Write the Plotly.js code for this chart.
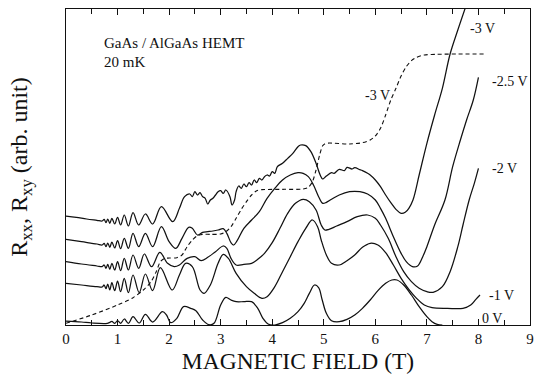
<!DOCTYPE html>
<html><head><meta charset="utf-8">
<script src="https://cdn.plot.ly/plotly-3.0.1.min.js"></script>
<style>html,body{margin:0;padding:0;background:#fff}#plot{width:534px;height:380px}</style>
</head><body><div id="plot"></div>
<script>
// Magnetic field (T) and R (arb. unit) for each gate voltage
const bM3 = [0,0.2,0.4,0.6,0.7,0.74,0.775,0.81,0.85,0.89,0.945,1.0,1.06,1.13,1.21,1.3,1.41,1.54,1.68,1.85,2.07,2.2,2.3,2.4,2.45,2.5,2.55,2.6,2.65,2.7,2.75,2.8,2.85,2.9,2.95,3.0,3.05,3.1,3.18,3.22,3.27,3.3,3.35,3.4,3.45,3.5,3.55,3.6,3.65,3.7,3.75,3.8,3.85,3.9,3.95,4.0,4.05,4.1,4.2,4.3,4.4,4.5,4.55,4.65,4.75,4.85,4.93,4.98,5.05,5.15,5.2,5.3,5.4,5.45,5.55,5.6,5.7,5.75,5.85,5.9,6.0,6.1,6.2,6.3,6.4,6.5,6.58,6.65,6.73,6.85,7.0,7.15,7.3,7.45,7.6,7.76];
const rM3 = [327,323,318,314,312,317,307,318,305,320,303,323,300,330,297,337,300,333,303,355,310,350,385,393,385,400,390,397,385,380,363,375,380,390,400,403,395,405,385,360,375,400,417,410,423,415,427,420,435,427,440,435,445,450,447,460,455,475,485,500,515,535,540,538,520,485,450,438,447,457,455,467,463,473,468,472,466,463,455,450,435,415,390,367,347,335,338,350,375,450,545,630,710,813,885,958];

const bM25 = [0,0.3,0.6,0.7,0.74,0.775,0.81,0.85,0.89,0.945,1.0,1.06,1.13,1.21,1.3,1.41,1.54,1.68,1.85,2.0,2.13,2.25,2.38,2.45,2.55,2.65,2.75,2.85,2.95,3.05,3.12,3.2,3.25,3.32,3.45,3.6,3.75,3.9,4.05,4.2,4.35,4.5,4.6,4.7,4.8,4.9,4.98,5.05,5.15,5.3,5.5,5.7,5.85,6.0,6.1,6.2,6.35,6.5,6.6,6.72,6.82,6.92,7.0,7.15,7.35,7.5,7.65,7.77,7.9,8.0];
const rM25 = [257,250,243,240,245,235,246,233,249,231,253,229,260,230,275,235,275,235,295,250,230,260,293,290,270,278,280,282,285,289,275,247,240,253,290,315,340,380,410,435,450,457,455,445,420,385,365,368,377,390,400,400,393,375,350,320,265,215,190,175,177,205,235,300,375,475,555,615,675,743];

const bM2 = [0,0.3,0.6,0.7,0.74,0.775,0.81,0.85,0.89,0.945,1.0,1.06,1.13,1.21,1.3,1.41,1.52,1.66,1.82,1.97,2.1,2.2,2.35,2.5,2.62,2.75,2.9,3.05,3.12,3.2,3.3,3.45,3.6,3.72,3.85,4.0,4.15,4.3,4.45,4.6,4.72,4.85,4.95,5.02,5.1,5.25,5.45,5.65,5.85,6.0,6.1,6.25,6.4,6.55,6.7,6.85,7.0,7.12,7.3,7.45,7.6,7.7,7.82,7.92,8.0];
const rM2 = [190,183,177,175,180,170,182,167,185,165,190,163,200,165,210,170,213,175,218,185,175,180,200,205,193,203,220,237,230,200,180,182,185,197,215,247,290,335,365,377,370,345,300,285,287,297,310,325,330,320,300,260,205,160,130,110,100,98,115,160,235,300,375,425,470];

const bM1 = [0,0.3,0.6,0.7,0.74,0.775,0.81,0.85,0.89,0.945,1.0,1.06,1.13,1.21,1.3,1.42,1.54,1.68,1.83,2.06,2.2,2.32,2.45,2.6,2.68,2.8,2.95,3.05,3.15,3.3,3.5,3.65,3.8,3.9,4.05,4.2,4.35,4.5,4.65,4.78,4.88,4.95,5.05,5.15,5.3,5.45,5.6,5.75,5.9,6.05,6.2,6.35,6.5,6.65,6.8,6.95,7.1,7.4,7.7,7.85,7.95,8.03];
const rM1 = [125,120,115,114,120,109,123,105,127,103,132,100,140,97,150,97,153,103,172,105,150,185,175,105,95,120,185,212,200,155,115,95,80,85,115,160,205,250,290,315,295,255,210,185,180,193,210,233,245,240,217,180,140,107,80,60,52,50,50,60,77,90];

const b0 = [0,0.3,0.5,0.8,0.85,0.89,0.945,1.0,1.06,1.13,1.21,1.3,1.42,1.54,1.68,1.87,1.95,2.03,2.15,2.28,2.42,2.52,2.65,2.77,2.87,3.0,3.1,3.2,3.3,3.45,3.6,3.72,3.82,3.92,4.05,4.2,4.35,4.5,4.62,4.72,4.82,4.9,4.97,5.05,5.15,5.3,5.45,5.6,5.75,5.9,6.05,6.2,6.32,6.42,6.55,6.7,6.85,7.0,7.1,7.2,7.3];
const r0 = [12,9,6,5,8,11,5,13,5,18,5,25,6,32,9,40,30,7,20,55,50,43,15,1,5,60,83,75,70,70,70,50,20,3,0,7,20,40,65,95,120,112,75,35,13,10,17,30,50,75,103,125,135,135,120,90,55,25,10,2,0];

const bXY = [0,0.5,1.0,1.3,1.5,1.65,1.75,1.83,1.9,2.0,2.15,2.25,2.35,2.45,2.55,2.65,2.8,3.0,3.1,3.2,3.3,3.4,3.5,3.6,3.7,3.8,4.2,4.6,4.7,4.78,4.85,4.92,4.98,5.05,5.5,5.75,5.9,6.0,6.1,6.2,6.3,6.4,6.5,6.6,6.7,6.8,6.95,7.2,7.6,8.1];
const rXY = [5,30,60,82,105,130,160,190,199,201,202,210,235,255,268,272,272,273,280,295,320,347,370,390,403,406,407,408,413,430,465,510,538,545,543,547,555,567,590,630,675,710,747,775,793,803,810,812,813,813];

const xTicks = [0,1,2,3,4,5,6,7,8,9];
const labels = ["-3 V","-2.5 V","-2 V","-1 V","0 V","-3 V"];
const labelX = [7.8,8.22,8.22,8.17,8.03,5.76];
const labelY = [890,730,470,90,20,690];

const serif = "Liberation Serif, Times New Roman, serif";
const line = {color:"#111", width:1.25, shape:"spline", smoothing:1.0};
const traces = [
  {x:bM3, y:rM3, mode:"lines", line:line, name:"-3 V"},
  {x:bM25, y:rM25, mode:"lines", line:line, name:"-2.5 V"},
  {x:bM2, y:rM2, mode:"lines", line:line, name:"-2 V"},
  {x:bM1, y:rM1, mode:"lines", line:line, name:"-1 V"},
  {x:b0, y:r0, mode:"lines", line:line, name:"0 V"},
  {x:bXY, y:rXY, mode:"lines", line:{color:"#111", width:1.1, dash:"4px,3px", shape:"spline", smoothing:0.8}, name:"Rxy -3 V"}
];
const ann = labels.map((t,i)=>({x:labelX[i], y:labelY[i], xref:"x", yref:"y", text:t, showarrow:false, xanchor:"left", yanchor:"middle", font:{family:serif, size:14, color:"#111"}}));
ann.push({x:0.69, y:846, xref:"x", yref:"y", text:"GaAs / AlGaAs HEMT", showarrow:false, xanchor:"left", yanchor:"middle", font:{family:serif, size:15, color:"#111"}});
ann.push({x:0.69, y:789, xref:"x", yref:"y", text:"20 mK", showarrow:false, xanchor:"left", yanchor:"middle", font:{family:serif, size:15, color:"#111"}});

const layout = {
  width:534, height:380,
  margin:{l:66, r:4, t:9, b:55},
  paper_bgcolor:"#fff", plot_bgcolor:"#fff",
  showlegend:false,
  font:{family:serif, color:"#111"},
  xaxis:{range:[0,9], tickvals:xTicks, ticktext:xTicks.map(String), ticks:"inside", ticklen:6, tickwidth:1, tickcolor:"#111",
    minor:{dtick:0.5, tick0:0, ticks:"inside", ticklen:5, tickcolor:"#111", showgrid:false},
    showline:true, linecolor:"#111", linewidth:1.2, mirror:"allticks", showgrid:false, zeroline:false,
    tickfont:{family:serif, size:15, color:"#111"},
    title:{text:"MAGNETIC FIELD (T)", font:{family:serif, size:23.5, color:"#111"}, standoff:6}},
  yaxis:{range:[0,948], showticklabels:false, ticks:"", showline:true, linecolor:"#111", linewidth:1.2, mirror:true, showgrid:false, zeroline:false,
    title:{text:"R<sub>xx</sub>, R<sub>xy</sub> (arb. unit)", font:{family:serif, size:24, color:"#111"}, standoff:30}},
  annotations:ann
};
Plotly.newPlot("plot", traces, layout, {staticPlot:true, displayModeBar:false});
</script></body></html>
